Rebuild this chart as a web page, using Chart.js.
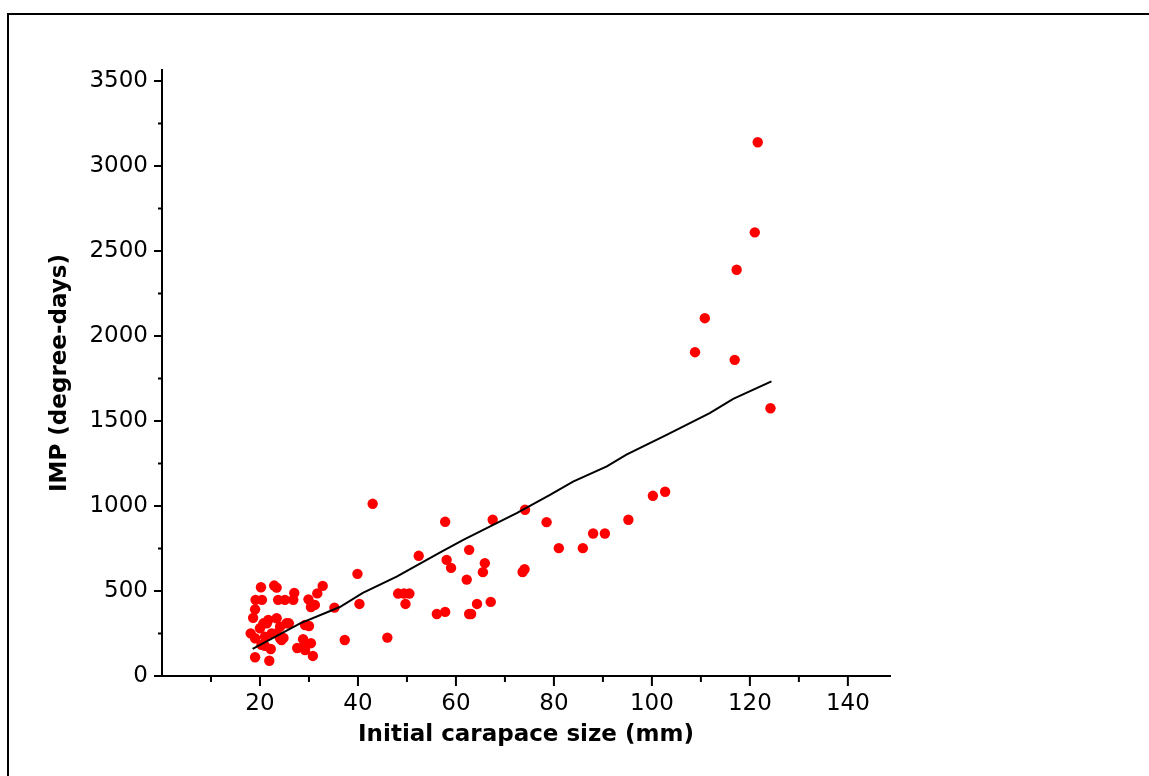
<!DOCTYPE html>
<html>
<head>
<meta charset="utf-8">
<script src="https://cdn.jsdelivr.net/npm/chart.js@4.4.1/dist/chart.umd.min.js"></script>
<style>
  body { margin: 0; background: #fff; overflow: hidden; }
  #wrap { position: relative; width: 1149px; height: 776px; }
  #frame { position: absolute; left: 7px; top: 13px; width: 1160px; height: 800px;
           border-left: 2px solid #000; border-top: 2px solid #000; pointer-events: none; }
  canvas { position: absolute; left: 0; top: 0; }
</style>
</head>
<body>
<div id="wrap">
  <canvas id="myChart" width="1149" height="776"></canvas>
  <div id="frame"></div>
</div>
<script>
// observed points: initial carapace size (mm) vs IMP (degree-days)
const sizeMm = [
  121.6, 121.0, 117.3, 110.8, 108.8, 116.9, 124.2,
  78.5, 81.0, 85.9, 88.0, 90.4, 95.2, 100.2, 102.7,
  43.0, 57.8, 67.5, 74.1, 52.4, 62.7, 58.1, 59.0, 65.9, 65.5, 74.0, 73.6,
  39.9, 62.2, 48.2, 49.4, 50.5, 35.2, 40.3, 49.7, 56.1, 57.8, 62.7, 63.1,
  64.3, 67.1, 37.3, 46.0,
  20.2, 22.9, 23.4, 19.1, 20.4, 23.7, 25.1, 26.8, 27.0, 19.0, 18.6, 18.1,
  32.8, 31.7, 29.9, 31.2, 30.4, 19.0, 21.9, 21.0, 22.2, 27.6, 28.8, 29.2,
  30.4, 30.8, 29.2, 30.0, 25.4, 24.4, 24.8, 28.8, 20.7, 21.7, 23.4, 25.9,
  19.0, 20.0, 21.0, 22.4, 23.4, 24.1, 20.3, 21.4, 24.1
];
const impDays = [
  3140, 2610, 2390, 2105, 1905, 1860, 1575,
  905, 752, 752, 838, 838, 919, 1060, 1084,
  1013, 907, 919, 978, 707, 742, 683, 636, 664, 611, 628, 612,
  601, 567, 485, 485, 485, 402, 424, 424, 365, 377, 365, 365,
  424, 436, 212, 226,
  522, 532, 520, 448, 448, 448, 448, 448, 489, 392, 342, 251,
  530, 486, 451, 418, 406, 110, 90, 177, 159, 165, 169, 153,
  193, 118, 300, 294, 310, 212, 224, 216, 310, 330, 340, 310,
  222, 281, 231, 251, 251, 222, 183, 310, 290
];

// fitted curve
const fitSize = [18.5, 28.2, 36.3, 41.0, 47.9, 56.7, 61.5, 67.6, 72.4, 79.2, 83.9, 90.8, 94.8, 103.0, 111.8, 116.6, 124.4];
const fitImp  = [159, 310, 406, 489, 585, 726, 801, 889, 958, 1066, 1144, 1233, 1302, 1419, 1547, 1630, 1733];

// axis ticks
const xMajorTicks = [20, 40, 60, 80, 100, 120, 140];
const xMinorTicks = [10, 30, 50, 70, 90, 110, 130];
const yMajorTicks = [0, 500, 1000, 1500, 2000, 2500, 3000, 3500];
const yMinorTicks = [250, 750, 1250, 1750, 2250, 2750, 3250];

const points = sizeMm.map((x, i) => ({ x: x, y: impDays[i] }));
const fitLine = fitSize.map((x, i) => ({ x: x, y: fitImp[i] }));

// tick marks drawn by hand so minor ticks can be shorter
const tickMarks = {
  id: 'tickMarks',
  afterDraw(chart) {
    const ctx = chart.ctx;
    const xs = chart.scales.x, ys = chart.scales.y;
    const area = chart.chartArea;
    ctx.save();
    ctx.strokeStyle = '#000';
    ctx.lineWidth = 2;
    ctx.beginPath();
    xMajorTicks.forEach(v => { const p = xs.getPixelForValue(v); ctx.moveTo(p, area.bottom); ctx.lineTo(p, area.bottom + 10); });
    xMinorTicks.forEach(v => { const p = xs.getPixelForValue(v); ctx.moveTo(p, area.bottom); ctx.lineTo(p, area.bottom + 6); });
    yMajorTicks.forEach(v => { const p = ys.getPixelForValue(v); ctx.moveTo(area.left, p); ctx.lineTo(area.left - 8, p); });
    yMinorTicks.forEach(v => { const p = ys.getPixelForValue(v); ctx.moveTo(area.left, p); ctx.lineTo(area.left - 4, p); });
    ctx.stroke();
    ctx.restore();
  }
};

var ctx = document.getElementById('myChart').getContext('2d');
var chart = new Chart(ctx, {
  type: 'scatter',
  data: {
    datasets: [{
      type: 'line',
      data: fitLine,
      borderColor: '#000',
      borderWidth: 2,
      pointRadius: 0,
      fill: false,
      tension: 0
    }, {
      data: points,
      backgroundColor: '#ff0000',
      borderColor: '#ff0000',
      borderWidth: 0,
      pointRadius: 5.2
    }]
  },
  options: {
    responsive: false,
    animation: false,
    devicePixelRatio: 1,
    layout: { padding: { top: 70, right: 259, left: 0, bottom: 0 } },
    plugins: { legend: { display: false }, tooltip: { enabled: false } },
    scales: {
      x: {
        type: 'linear',
        min: 0,
        max: 148.6,
        afterFit: s => { s.height = 100; },
        afterBuildTicks: s => { s.ticks = xMajorTicks.map(v => ({ value: v })); },
        grid: { display: false },
        border: { display: true, color: '#000', width: 2 },
        ticks: { color: '#000', padding: 6, maxRotation: 0, autoSkip: false,
                 callback: v => String(v),
                 font: { family: 'DejaVu Sans', size: 23 } },
        title: { display: true, text: 'Initial carapace size (mm)', color: '#000',
                 padding: { top: 0, bottom: 27 },
                 font: { family: 'DejaVu Sans', size: 23, weight: 'bold' } }
      },
      y: {
        type: 'linear',
        min: 0,
        max: 3565,
        afterFit: s => { s.width = 162; },
        afterBuildTicks: s => { s.ticks = yMajorTicks.map(v => ({ value: v })); },
        grid: { display: false },
        border: { display: true, color: '#000', width: 2 },
        ticks: { color: '#000', padding: 6, autoSkip: false,
                 callback: v => String(v),
                 font: { family: 'DejaVu Sans', size: 23 } },
        title: { display: true, text: 'IMP (degree-days)', color: '#000',
                 padding: { top: 46, bottom: 0 },
                 font: { family: 'DejaVu Sans', size: 23, weight: 'bold' } }
      }
    }
  },
  plugins: [tickMarks]
});
</script>
</body>
</html>
